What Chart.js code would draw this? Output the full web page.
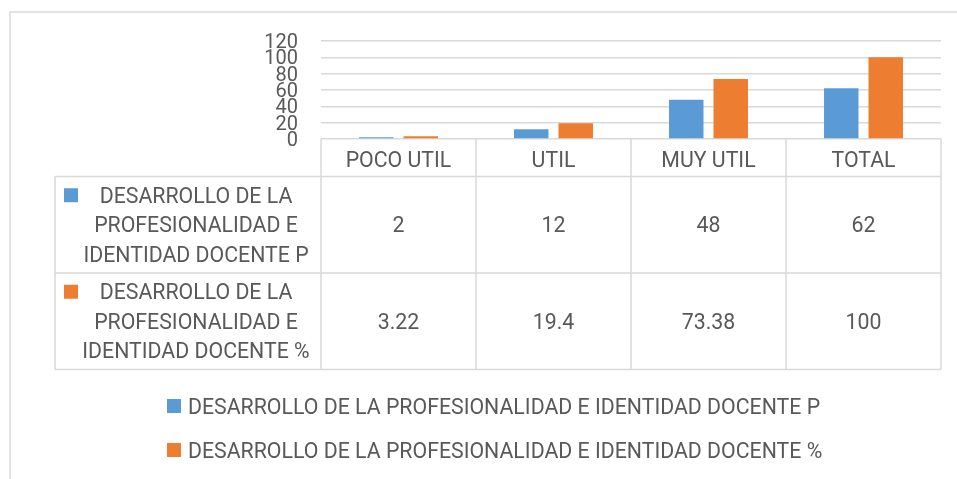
<!DOCTYPE html>
<html>
<head>
<meta charset="utf-8">
<script src="https://cdn.jsdelivr.net/npm/chart.js@4.4.0/dist/chart.umd.min.js"></script>
<style>
  html, body { margin: 0; padding: 0; background: #fff; }
  #wrap { width: 957px; height: 479px; position: relative; }
</style>
</head>
<body>
<div id="wrap"><canvas id="chart" width="957" height="479"></canvas></div>
<script>
// data
const categories = ["POCO UTIL", "UTIL", "MUY UTIL", "TOTAL"];
const seriesNames = [
    "DESARROLLO DE LA PROFESIONALIDAD E IDENTIDAD DOCENTE P",
    "DESARROLLO DE LA PROFESIONALIDAD E IDENTIDAD DOCENTE %"
];
const countValues = [2, 12, 48, 62];
const percentValues = [3.22, 19.4, 73.38, 100];
const yTicks = [0, 20, 40, 60, 80, 100, 120];

const colors = ["#5B9BD5", "#ED7D31"];
const textColor = "#595959";
const lineColor = "#d9d9d9";
const fontFamily = "Roboto, 'Liberation Sans', sans-serif";
const fontSize = 21.3;

function wrapText(ctx, text, maxWidth) {
    let words = text.split(" ");
    let lines = [];
    let line = "";
    for (let w of words) {
        let test = line ? line + " " + w : w;
        if (ctx.measureText(test).width > maxWidth && line) {
            lines.push(line);
            line = w;
        } else {
            line = test;
        }
    }
    if (line) lines.push(line);
    return lines;
}

// text centred on the cap height around y
function capText(ctx, text, x, y) {
    ctx.fillText(text, x, y + fontSize * 0.711 / 2);
}

// draws the frame, the data table under the axis and the legend
const dataTablePlugin = {
    id: "dataTable",
    beforeDraw(chart) {
        let ctx = chart.ctx;
        ctx.save();
        ctx.strokeStyle = lineColor;
        ctx.lineWidth = 1.5;
        ctx.beginPath();
        ctx.moveTo(10, 479);
        ctx.lineTo(10, 12);
        ctx.lineTo(957, 12);
        ctx.stroke();
        ctx.restore();
    },
    afterDraw(chart) {
        let ctx = chart.ctx;
        let area = chart.chartArea;
        let x = chart.scales.x;
        let n = categories.length;
        let colW = (area.right - area.left) / n;
        let tableLeft = 55;
        let headerBottom = area.bottom + 37.5;
        let rowH = 96.5;
        let rowBottoms = [headerBottom + rowH, headerBottom + 2 * rowH];

        ctx.save();
        ctx.strokeStyle = lineColor;
        ctx.lineWidth = 1.5;
        ctx.beginPath();
        // vertical column lines
        for (let i = 0; i <= n; i++) {
            let px = area.left + i * colW;
            ctx.moveTo(px, area.bottom);
            ctx.lineTo(px, rowBottoms[1]);
        }
        ctx.moveTo(tableLeft, headerBottom);
        ctx.lineTo(tableLeft, rowBottoms[1]);
        // horizontal row lines
        for (let y of [headerBottom, rowBottoms[0], rowBottoms[1]]) {
            ctx.moveTo(tableLeft, y);
            ctx.lineTo(area.right, y);
        }
        ctx.stroke();

        ctx.fillStyle = textColor;
        ctx.font = fontSize + "px " + fontFamily;
        ctx.textAlign = "center";
        ctx.textBaseline = "alphabetic";

        // header
        categories.forEach((c, i) => {
            capText(ctx, c, x.getPixelForValue(i), area.bottom + 20);
        });

        // rows
        chart.data.datasets.forEach((ds, r) => {
            let top = headerBottom + r * rowH;
            let mid = top + rowH / 2;
            let lines = wrapText(ctx, ds.label, 240);
            let lineH = 29.5;
            let firstY = mid - (lines.length - 1) * lineH / 2;
            ctx.fillStyle = ds.backgroundColor;
            ctx.fillRect(64, firstY - 7, 14, 14);
            ctx.fillStyle = textColor;
            lines.forEach((l, k) => {
                capText(ctx, l, 196, firstY + k * lineH);
            });
            ds.data.forEach((v, i) => {
                capText(ctx, String(v), x.getPixelForValue(i), mid);
            });
        });

        // legend
        ctx.textAlign = "left";
        chart.data.datasets.forEach((ds, r) => {
            let y = 406 + r * 44;
            ctx.fillStyle = ds.backgroundColor;
            ctx.fillRect(167, y - 7, 14, 14);
            ctx.fillStyle = textColor;
            capText(ctx, ds.label, 188, y);
        });
        ctx.restore();
    }
};

new Chart(document.getElementById("chart"), {
    type: "bar",
    data: {
        labels: categories,
        datasets: [
            { label: seriesNames[0], data: countValues, backgroundColor: colors[0] },
            { label: seriesNames[1], data: percentValues, backgroundColor: colors[1] }
        ]
    },
    options: {
        responsive: false,
        devicePixelRatio: 1,
        animation: false,
        categoryPercentage: 0.574,
        barPercentage: 0.775,
        layout: { padding: { left: 250, top: 41, right: 16, bottom: 340 } },
        plugins: {
            legend: { display: false },
            tooltip: { enabled: false }
        },
        scales: {
            x: { display: false },
            y: {
                min: yTicks[0],
                max: yTicks[yTicks.length - 1],
                afterFit: (scale) => { scale.width = 71; },
                afterBuildTicks: (scale) => { scale.ticks = yTicks.map(v => ({ value: v })); },
                border: { display: false },
                grid: { color: lineColor, lineWidth: 1.5, drawTicks: false },
                ticks: {
                    autoSkip: false,
                    padding: 23,
                    labelOffset: 2,
                    color: textColor,
                    font: { family: fontFamily, size: 20, lineHeight: 1 }
                }
            }
        }
    },
    plugins: [dataTablePlugin]
});
</script>
</body>
</html>
